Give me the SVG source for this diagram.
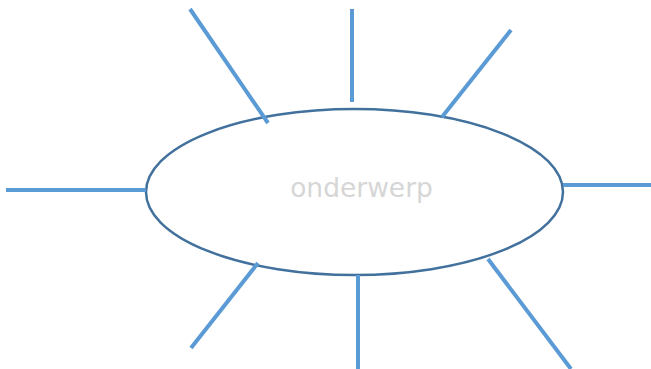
<svg xmlns="http://www.w3.org/2000/svg" width="651" height="369" viewBox="0 0 651 369">
<style>
.c{stroke:#5B9BD5;stroke-width:4;fill:none}
.n{fill:#fff;stroke:#41719C;stroke-width:2.5}
.t{font-family:"DejaVu Sans","Liberation Sans",sans-serif;font-size:26.5px;fill:#D6D6D6;text-anchor:middle}
</style>
<rect width="651" height="369" fill="#fff"/>
<g id="onderwerp">
<ellipse class="n" cx="354.5" cy="192" rx="208.5" ry="83"/>
<text class="t" x="361.5" y="197">onderwerp</text>
</g>
<g id="connectors">
<line class="c" x1="190" y1="9" x2="268" y2="123"/>
<line class="c" x1="352" y1="9" x2="352" y2="102"/>
<line class="c" x1="511" y1="30" x2="442" y2="117"/>
<line class="c" x1="6" y1="190" x2="146" y2="190"/>
<line class="c" x1="563" y1="185" x2="651" y2="185"/>
<line class="c" x1="258" y1="263" x2="191" y2="348"/>
<line class="c" x1="358" y1="275" x2="358" y2="369"/>
<line class="c" x1="488" y1="259" x2="571" y2="369"/>
</g>
</svg>
